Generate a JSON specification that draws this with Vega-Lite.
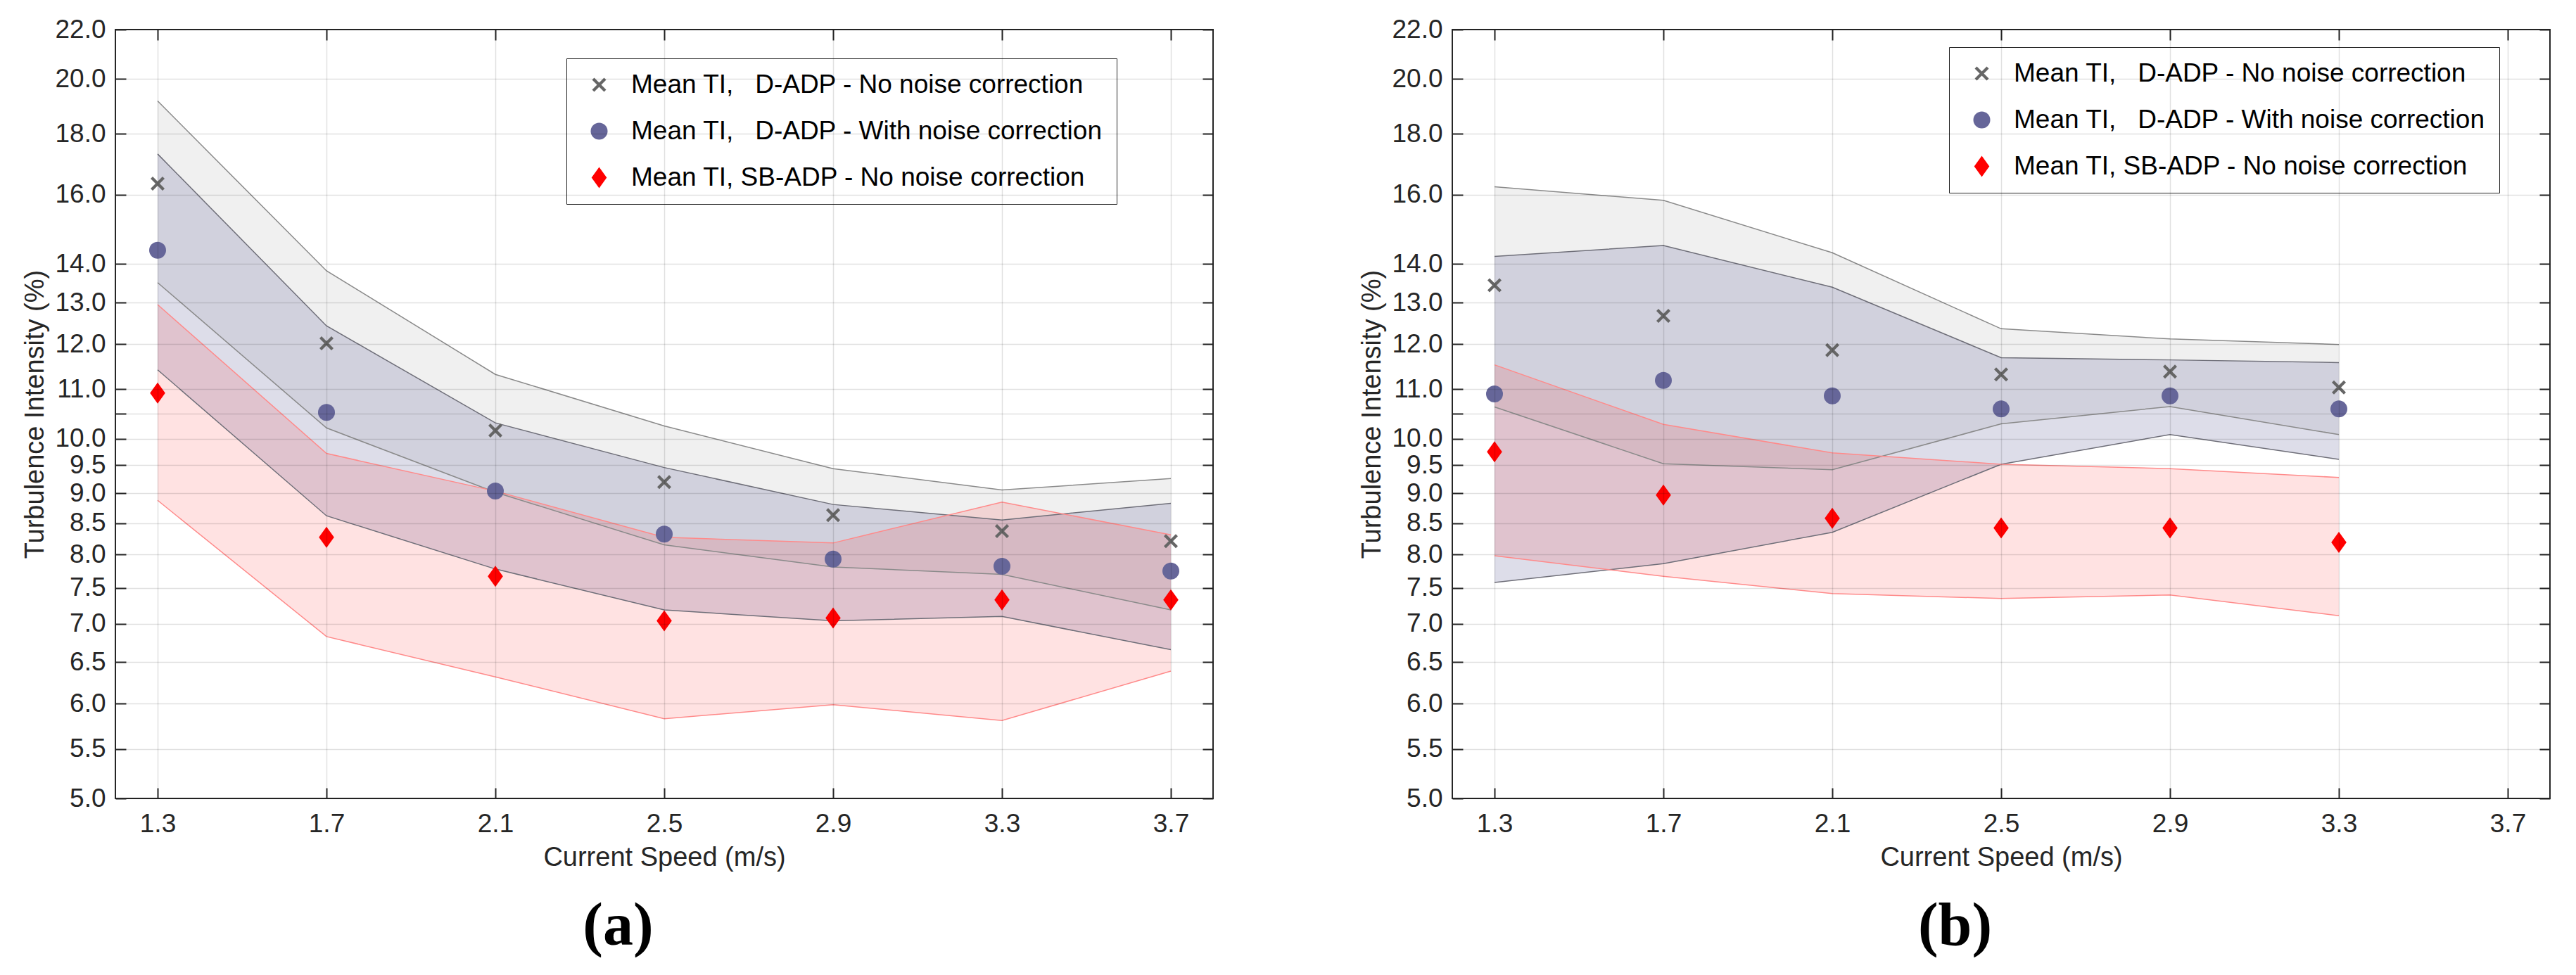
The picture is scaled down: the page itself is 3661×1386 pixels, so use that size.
{
  "$schema": "https://vega.github.io/schema/vega-lite/v6.json",
  "background": "white",
  "padding": {"left": 30, "top": 22, "right": 0, "bottom": 0},
  "spacing": 340,
  "bounds": "flush",
  "datasets": {
    "labels": [
      {"s": "nn", "series": "Mean TI,\u00a0\u00a0\u00a0D-ADP - No noise correction"},
      {"s": "wn", "series": "Mean TI,\u00a0\u00a0\u00a0D-ADP - With noise correction"},
      {"s": "sb", "series": "Mean TI, SB-ADP - No noise correction"}
    ]
  },
  "data": {
    "values": [
      {"panel": "a", "speed": 1.3, "s": "nn", "mean": 16.35, "lo": 13.51, "hi": 19.17},
      {"panel": "a", "speed": 1.7, "s": "nn", "mean": 12.02, "lo": 10.21, "hi": 13.82},
      {"panel": "a", "speed": 2.1, "s": "nn", "mean": 10.16, "lo": 9.02, "hi": 11.32},
      {"panel": "a", "speed": 2.5, "s": "nn", "mean": 9.20, "lo": 8.15, "hi": 10.25},
      {"panel": "a", "speed": 2.9, "s": "nn", "mean": 8.63, "lo": 7.81, "hi": 9.44},
      {"panel": "a", "speed": 3.3, "s": "nn", "mean": 8.37, "lo": 7.70, "hi": 9.06},
      {"panel": "a", "speed": 3.7, "s": "nn", "mean": 8.21, "lo": 7.19, "hi": 9.26},
      {"panel": "a", "speed": 1.3, "s": "wn", "mean": 14.38, "lo": 11.42, "hi": 17.31},
      {"panel": "a", "speed": 1.7, "s": "wn", "mean": 10.52, "lo": 8.62, "hi": 12.43},
      {"panel": "a", "speed": 2.1, "s": "wn", "mean": 9.04, "lo": 7.78, "hi": 10.31},
      {"panel": "a", "speed": 2.5, "s": "wn", "mean": 8.32, "lo": 7.19, "hi": 9.46},
      {"panel": "a", "speed": 2.9, "s": "wn", "mean": 7.93, "lo": 7.04, "hi": 8.81},
      {"panel": "a", "speed": 3.3, "s": "wn", "mean": 7.82, "lo": 7.10, "hi": 8.55},
      {"panel": "a", "speed": 3.7, "s": "wn", "mean": 7.75, "lo": 6.66, "hi": 8.83},
      {"panel": "a", "speed": 1.3, "s": "sb", "mean": 10.92, "lo": 8.88, "hi": 12.95},
      {"panel": "a", "speed": 1.7, "s": "sb", "mean": 8.27, "lo": 6.83, "hi": 9.72},
      {"panel": "a", "speed": 2.1, "s": "sb", "mean": 7.67, "lo": 6.32, "hi": 9.04},
      {"panel": "a", "speed": 2.5, "s": "sb", "mean": 7.04, "lo": 5.83, "hi": 8.27},
      {"panel": "a", "speed": 2.9, "s": "sb", "mean": 7.08, "lo": 5.99, "hi": 8.18},
      {"panel": "a", "speed": 3.3, "s": "sb", "mean": 7.33, "lo": 5.81, "hi": 8.85},
      {"panel": "a", "speed": 3.7, "s": "sb", "mean": 7.33, "lo": 6.39, "hi": 8.31},
      {"panel": "b", "speed": 1.3, "s": "nn", "mean": 13.44, "lo": 10.63, "hi": 16.25},
      {"panel": "b", "speed": 1.7, "s": "nn", "mean": 12.67, "lo": 9.53, "hi": 15.83},
      {"panel": "b", "speed": 2.1, "s": "nn", "mean": 11.86, "lo": 9.42, "hi": 14.31},
      {"panel": "b", "speed": 2.5, "s": "nn", "mean": 11.32, "lo": 10.29, "hi": 12.36},
      {"panel": "b", "speed": 2.9, "s": "nn", "mean": 11.38, "lo": 10.64, "hi": 12.12},
      {"panel": "b", "speed": 3.3, "s": "nn", "mean": 11.04, "lo": 10.08, "hi": 11.99},
      {"panel": "b", "speed": 1.3, "s": "wn", "mean": 10.90, "lo": 7.58, "hi": 14.21},
      {"panel": "b", "speed": 1.7, "s": "wn", "mean": 11.19, "lo": 7.86, "hi": 14.51},
      {"panel": "b", "speed": 2.1, "s": "wn", "mean": 10.86, "lo": 8.35, "hi": 13.39},
      {"panel": "b", "speed": 2.5, "s": "wn", "mean": 10.59, "lo": 9.52, "hi": 11.69},
      {"panel": "b", "speed": 2.9, "s": "wn", "mean": 10.86, "lo": 10.08, "hi": 11.64},
      {"panel": "b", "speed": 3.3, "s": "wn", "mean": 10.59, "lo": 9.61, "hi": 11.58},
      {"panel": "b", "speed": 1.3, "s": "sb", "mean": 9.75, "lo": 7.98, "hi": 11.53},
      {"panel": "b", "speed": 1.7, "s": "sb", "mean": 8.97, "lo": 7.67, "hi": 10.28},
      {"panel": "b", "speed": 2.1, "s": "sb", "mean": 8.58, "lo": 7.42, "hi": 9.73},
      {"panel": "b", "speed": 2.5, "s": "sb", "mean": 8.42, "lo": 7.35, "hi": 9.52},
      {"panel": "b", "speed": 2.9, "s": "sb", "mean": 8.42, "lo": 7.40, "hi": 9.44},
      {"panel": "b", "speed": 3.3, "s": "sb", "mean": 8.19, "lo": 7.11, "hi": 9.28}
    ]
  },
  "transform": [
    {"lookup": "s", "from": {"data": {"name": "labels"}, "key": "s", "fields": ["series"]}}
  ],
  "resolve": {
    "scale": {"color": "independent", "shape": "independent", "size": "independent"}
  },
  "hconcat": [
    {
      "width": 1560,
      "height": 1093,
      "title": {"text": "(a)", "orient": "bottom", "anchor": "middle", "frame": "bounds", "font": "Liberation Serif", "fontSize": 86, "fontWeight": "bold", "offset": 37, "color": "#000000"},
      "transform": [{"filter": "datum.panel === 'a'"}],
      "resolve": {"axis": {"x": "independent", "y": "independent"}},
      "layer": [
        {
          "transform": [{"filter": "datum.s === 'nn'"}],
          "mark": {"type": "area", "color": "#808080", "opacity": 0.12},
          "encoding": {
            "x": {"field": "speed", "type": "quantitative", "scale": {"domain": [1.2, 3.8], "nice": false, "zero": false},
              "axis": {"orient": "bottom", "values": [1.3, 1.7, 2.1, 2.5, 2.9, 3.3, 3.7], "format": ".1f", "title": "Current Speed (m/s)", "grid": true, "zindex": 1}},
            "y": {"field": "lo", "type": "quantitative", "scale": {"type": "log", "domain": [5, 22], "nice": false},
              "axis": {"orient": "left", "values": [5, 5.5, 6, 6.5, 7, 7.5, 8, 8.5, 9, 9.5, 10, 10.5, 11, 12, 13, 14, 16, 18, 20, 22], "format": ".1f", "title": "Turbulence Intensity (%)", "grid": true, "zindex": 1}},
            "y2": {"field": "hi"}
          }
        },
        {
          "transform": [{"filter": "datum.s === 'wn'"}],
          "mark": {"type": "area", "color": "#666699", "opacity": 0.22},
          "encoding": {
            "x": {"field": "speed", "type": "quantitative", "axis": null},
            "y": {"field": "lo", "type": "quantitative", "axis": null},
            "y2": {"field": "hi"}
          }
        },
        {
          "transform": [{"filter": "datum.s === 'sb'"}],
          "mark": {"type": "area", "color": "#ff0000", "opacity": 0.115},
          "encoding": {
            "x": {"field": "speed", "type": "quantitative", "axis": null},
            "y": {"field": "lo", "type": "quantitative", "axis": null},
            "y2": {"field": "hi"}
          }
        },
        {
          "transform": [{"filter": "datum.s === 'nn'"}, {"fold": ["lo", "hi"], "as": ["edge", "v"]}],
          "mark": {"type": "line", "color": "#8a8a8a", "strokeWidth": 1.5},
          "encoding": {
            "x": {"field": "speed", "type": "quantitative", "axis": null},
            "y": {"field": "v", "type": "quantitative", "axis": null},
            "detail": {"field": "edge"}
          }
        },
        {
          "transform": [{"filter": "datum.s === 'wn'"}, {"fold": ["lo", "hi"], "as": ["edge", "v"]}],
          "mark": {"type": "line", "color": "#6e6e78", "strokeWidth": 1.5},
          "encoding": {
            "x": {"field": "speed", "type": "quantitative", "axis": null},
            "y": {"field": "v", "type": "quantitative", "axis": null},
            "detail": {"field": "edge"}
          }
        },
        {
          "transform": [{"filter": "datum.s === 'sb'"}, {"fold": ["lo", "hi"], "as": ["edge", "v"]}],
          "mark": {"type": "line", "color": "#ff8a8a", "strokeWidth": 1.5},
          "encoding": {
            "x": {"field": "speed", "type": "quantitative", "axis": null},
            "y": {"field": "v", "type": "quantitative", "axis": null},
            "detail": {"field": "edge"}
          }
        },
        {
          "mark": {"type": "point", "filled": true, "opacity": 1, "strokeWidth": 0},
          "encoding": {
            "x": {"field": "speed", "type": "quantitative",
              "axis": {"orient": "top", "values": [1.3, 1.7, 2.1, 2.5, 2.9, 3.3, 3.7], "labels": false, "title": null, "grid": false}},
            "y": {"field": "mean", "type": "quantitative",
              "axis": {"orient": "right", "values": [5, 5.5, 6, 6.5, 7, 7.5, 8, 8.5, 9, 9.5, 10, 10.5, 11, 12, 13, 14, 16, 18, 20, 22], "labels": false, "title": null, "grid": false}},
            "color": {"field": "series", "type": "nominal",
              "scale": {"domain": ["Mean TI,\u00a0\u00a0\u00a0D-ADP - No noise correction", "Mean TI,\u00a0\u00a0\u00a0D-ADP - With noise correction", "Mean TI, SB-ADP - No noise correction"], "range": ["#666666", "#666699", "#ff0000"]},
              "legend": {"orient": "none", "legendX": 641, "legendY": 41, "title": null}},
            "shape": {"field": "series", "type": "nominal",
              "scale": {"domain": ["Mean TI,\u00a0\u00a0\u00a0D-ADP - No noise correction", "Mean TI,\u00a0\u00a0\u00a0D-ADP - With noise correction", "Mean TI, SB-ADP - No noise correction"], "range": ["M-1,-0.7L-0.7,-1L0,-0.3L0.7,-1L1,-0.7L0.3,0L1,0.7L0.7,1L0,0.3L-0.7,1L-1,0.7L-0.3,0Z", "circle", "M0,-1L0.72,0L0,1L-0.72,0Z"]},
              "legend": {"orient": "none", "legendX": 641, "legendY": 41, "title": null}},
            "size": {"field": "series", "type": "nominal",
              "scale": {"type": "ordinal", "domain": ["Mean TI,\u00a0\u00a0\u00a0D-ADP - No noise correction", "Mean TI,\u00a0\u00a0\u00a0D-ADP - With noise correction", "Mean TI, SB-ADP - No noise correction"], "range": [400, 576, 900]},
              "legend": {"orient": "none", "legendX": 641, "legendY": 41, "title": null}}
          }
        }
      ]
    },
    {
      "width": 1560,
      "height": 1093,
      "title": {"text": "(b)", "orient": "bottom", "anchor": "middle", "frame": "bounds", "font": "Liberation Serif", "fontSize": 86, "fontWeight": "bold", "offset": 37, "color": "#000000"},
      "transform": [{"filter": "datum.panel === 'b'"}],
      "resolve": {"axis": {"x": "independent", "y": "independent"}},
      "layer": [
        {
          "transform": [{"filter": "datum.s === 'nn'"}],
          "mark": {"type": "area", "color": "#808080", "opacity": 0.12},
          "encoding": {
            "x": {"field": "speed", "type": "quantitative", "scale": {"domain": [1.2, 3.8], "nice": false, "zero": false},
              "axis": {"orient": "bottom", "values": [1.3, 1.7, 2.1, 2.5, 2.9, 3.3, 3.7], "format": ".1f", "title": "Current Speed (m/s)", "grid": true, "zindex": 1}},
            "y": {"field": "lo", "type": "quantitative", "scale": {"type": "log", "domain": [5, 22], "nice": false},
              "axis": {"orient": "left", "values": [5, 5.5, 6, 6.5, 7, 7.5, 8, 8.5, 9, 9.5, 10, 10.5, 11, 12, 13, 14, 16, 18, 20, 22], "format": ".1f", "title": "Turbulence Intensity (%)", "grid": true, "zindex": 1}},
            "y2": {"field": "hi"}
          }
        },
        {
          "transform": [{"filter": "datum.s === 'wn'"}],
          "mark": {"type": "area", "color": "#666699", "opacity": 0.22},
          "encoding": {
            "x": {"field": "speed", "type": "quantitative", "axis": null},
            "y": {"field": "lo", "type": "quantitative", "axis": null},
            "y2": {"field": "hi"}
          }
        },
        {
          "transform": [{"filter": "datum.s === 'sb'"}],
          "mark": {"type": "area", "color": "#ff0000", "opacity": 0.115},
          "encoding": {
            "x": {"field": "speed", "type": "quantitative", "axis": null},
            "y": {"field": "lo", "type": "quantitative", "axis": null},
            "y2": {"field": "hi"}
          }
        },
        {
          "transform": [{"filter": "datum.s === 'nn'"}, {"fold": ["lo", "hi"], "as": ["edge", "v"]}],
          "mark": {"type": "line", "color": "#8a8a8a", "strokeWidth": 1.5},
          "encoding": {
            "x": {"field": "speed", "type": "quantitative", "axis": null},
            "y": {"field": "v", "type": "quantitative", "axis": null},
            "detail": {"field": "edge"}
          }
        },
        {
          "transform": [{"filter": "datum.s === 'wn'"}, {"fold": ["lo", "hi"], "as": ["edge", "v"]}],
          "mark": {"type": "line", "color": "#6e6e78", "strokeWidth": 1.5},
          "encoding": {
            "x": {"field": "speed", "type": "quantitative", "axis": null},
            "y": {"field": "v", "type": "quantitative", "axis": null},
            "detail": {"field": "edge"}
          }
        },
        {
          "transform": [{"filter": "datum.s === 'sb'"}, {"fold": ["lo", "hi"], "as": ["edge", "v"]}],
          "mark": {"type": "line", "color": "#ff8a8a", "strokeWidth": 1.5},
          "encoding": {
            "x": {"field": "speed", "type": "quantitative", "axis": null},
            "y": {"field": "v", "type": "quantitative", "axis": null},
            "detail": {"field": "edge"}
          }
        },
        {
          "mark": {"type": "point", "filled": true, "opacity": 1, "strokeWidth": 0},
          "encoding": {
            "x": {"field": "speed", "type": "quantitative",
              "axis": {"orient": "top", "values": [1.3, 1.7, 2.1, 2.5, 2.9, 3.3, 3.7], "labels": false, "title": null, "grid": false}},
            "y": {"field": "mean", "type": "quantitative",
              "axis": {"orient": "right", "values": [5, 5.5, 6, 6.5, 7, 7.5, 8, 8.5, 9, 9.5, 10, 10.5, 11, 12, 13, 14, 16, 18, 20, 22], "labels": false, "title": null, "grid": false}},
            "color": {"field": "series", "type": "nominal",
              "scale": {"domain": ["Mean TI,\u00a0\u00a0\u00a0D-ADP - No noise correction", "Mean TI,\u00a0\u00a0\u00a0D-ADP - With noise correction", "Mean TI, SB-ADP - No noise correction"], "range": ["#666666", "#666699", "#ff0000"]},
              "legend": {"orient": "none", "legendX": 706, "legendY": 25, "title": null}},
            "shape": {"field": "series", "type": "nominal",
              "scale": {"domain": ["Mean TI,\u00a0\u00a0\u00a0D-ADP - No noise correction", "Mean TI,\u00a0\u00a0\u00a0D-ADP - With noise correction", "Mean TI, SB-ADP - No noise correction"], "range": ["M-1,-0.7L-0.7,-1L0,-0.3L0.7,-1L1,-0.7L0.3,0L1,0.7L0.7,1L0,0.3L-0.7,1L-1,0.7L-0.3,0Z", "circle", "M0,-1L0.72,0L0,1L-0.72,0Z"]},
              "legend": {"orient": "none", "legendX": 706, "legendY": 25, "title": null}},
            "size": {"field": "series", "type": "nominal",
              "scale": {"type": "ordinal", "domain": ["Mean TI,\u00a0\u00a0\u00a0D-ADP - No noise correction", "Mean TI,\u00a0\u00a0\u00a0D-ADP - With noise correction", "Mean TI, SB-ADP - No noise correction"], "range": [400, 576, 900]},
              "legend": {"orient": "none", "legendX": 706, "legendY": 25, "title": null}}
          }
        }
      ]
    }
  ],
  "config": {
    "font": "Liberation Sans",
    "view": {"stroke": "#262626", "strokeWidth": 2},
    "axis": {
      "domain": false,
      "labelFont": "Liberation Sans",
      "labelFontSize": 37,
      "labelColor": "#262626",
      "titleFont": "Liberation Sans",
      "titleFontSize": 38,
      "titleFontWeight": "normal",
      "titleColor": "#262626",
      "tickColor": "#262626",
      "tickWidth": 2,
      "tickSize": -15,
      "gridColor": "#000000",
      "gridOpacity": 0.12,
      "gridWidth": 1.5
    },
    "axisX": {"labelPadding": 33, "titlePadding": 11},
    "axisY": {"labelPadding": 29, "titlePadding": 8},
    "legend": {
      "labelFont": "Liberation Sans",
      "labelFontSize": 37,
      "labelColor": "#000000",
      "padding": 19,
      "rowPadding": 28,
      "symbolOffset": 9,
      "labelOffset": 27,
      "strokeColor": "#262626",
      "fillColor": "#ffffff",
      "labelLimit": 2000
    }
  }
}
